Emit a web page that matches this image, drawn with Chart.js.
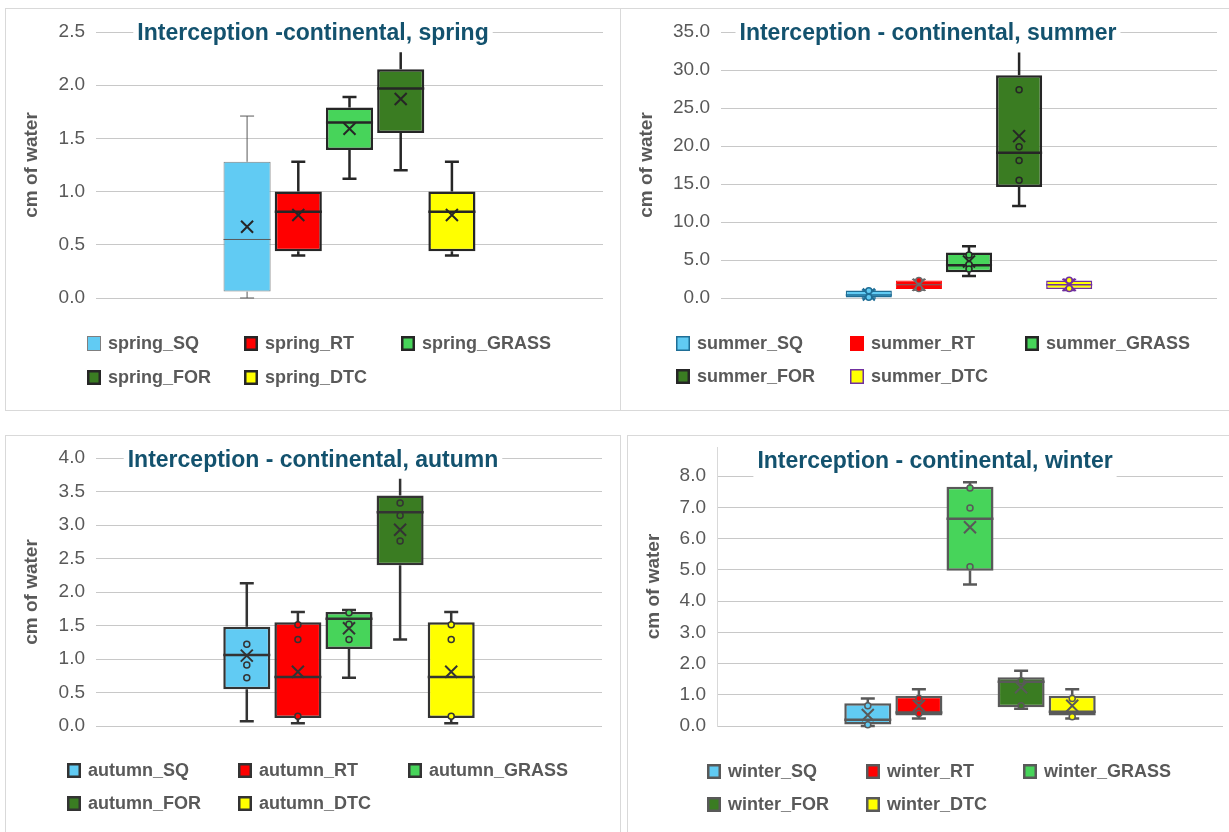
<!DOCTYPE html>
<html>
<head>
<meta charset="utf-8">
<script src="https://cdn.jsdelivr.net/npm/chart.js"></script>
<style>
  body { margin: 0; background: #fff; width: 1229px; height: 832px; overflow: hidden; position: relative; }
  .panel { position: absolute; border: 1px solid #d9d9d9; box-sizing: border-box; }
  canvas { position: absolute; }
</style>
</head>
<body>
<div class="panel" style="left:5px;top:8px;width:616px;height:403px"></div>
<div class="panel" style="left:620px;top:8px;width:615px;height:403px"></div>
<div class="panel" style="left:5px;top:435px;width:616px;height:402px"></div>
<div class="panel" style="left:627px;top:435px;width:608px;height:402px"></div>

<canvas id="spring" width="615" height="402" style="left:5px;top:8px"></canvas>
<canvas id="summer" width="609" height="402" style="left:620px;top:8px"></canvas>
<canvas id="autumn" width="615" height="397" style="left:5px;top:435px"></canvas>
<canvas id="winter" width="602" height="397" style="left:627px;top:435px"></canvas>

<script>
const groups = ['SQ', 'RT', 'GRASS', 'FOR', 'DTC'];
const fillColors = ['#61cbf3', '#ff0000', '#47d45a', '#3a7c22', '#ffff00'];

// spring
const springMin    = [0.00, 0.40, 1.12, 1.20, 0.40];
const springQ1     = [0.06, 0.44, 1.39, 1.55, 0.44];
const springMedian = [0.55, 0.81, 1.65, 1.97, 0.81];
const springQ3     = [1.28, 1.00, 1.79, 2.15, 1.00];
const springMax    = [1.71, 1.28, 1.89, 2.31, 1.28];
const springMean   = [0.67, 0.78, 1.59, 1.87, 0.78];
const springPoints = [[], [], [], [], []];

// summer
const summerMin    = [0.00, 1.00, 2.90, 12.1, 1.00];
const summerQ1     = [0.05, 1.17, 3.40, 14.6, 1.17];
const summerMedian = [0.40, 1.74, 4.30, 19.1, 1.74];
const summerQ3     = [1.00, 2.30, 6.00, 29.3, 2.30];
const summerMax    = [1.05, 2.45, 6.80, 32.3, 2.45];
const summerMean   = [0.45, 1.75, 4.80, 21.3, 1.75];
const summerPoints = [[0.95, 0.10], [2.30, 1.25], [5.65, 4.40, 3.80], [27.4, 19.9, 18.1, 15.5], [2.35, 1.25]];

// autumn
const autumnMin    = [0.07, 0.04, 0.72, 1.29, 0.04];
const autumnQ1     = [0.55, 0.12, 1.15, 2.40, 0.12];
const autumnMedian = [1.06, 0.73, 1.60, 3.19, 0.73];
const autumnQ3     = [1.48, 1.55, 1.70, 3.44, 1.55];
const autumnMax    = [2.13, 1.70, 1.73, 3.69, 1.70];
const autumnMean   = [1.05, 0.81, 1.46, 2.93, 0.81];
const autumnPoints = [[1.22, 0.91, 0.72], [1.51, 1.29, 0.145], [1.69, 1.52, 1.29], [3.33, 3.14, 2.76], [1.51, 1.29, 0.145]];

// winter
const winterMin    = [0.00, 0.24, 4.53, 0.55, 0.24];
const winterQ1     = [0.05, 0.34, 4.97, 0.60, 0.34];
const winterMedian = [0.20, 0.43, 6.63, 1.42, 0.46];
const winterQ3     = [0.73, 0.97, 7.66, 1.56, 0.97];
const winterMax    = [0.88, 1.18, 7.80, 1.77, 1.18];
const winterMean   = [0.35, 0.65, 6.36, 1.24, 0.65];
const winterPoints = [[0.65, 0.04], [0.88, 0.40], [7.62, 6.98, 5.10], [1.45, 0.65], [0.88, 0.30]];

// y axis ticks
const springTicks = { max: 2.5, step: 0.5 };
const summerTicks = { max: 35, step: 5 };
const autumnTicks = { max: 4, step: 0.5 };
const winterTicks = { max: 8.93, step: 1 };

const grey = '#595959';
const font = '"Liberation Sans", Arial, sans-serif';

// whiskers, median, mean cross and inner points
const boxMarks = {
  id: 'boxMarks',
  afterDatasetsDraw(chart, args, opts) {
    const ctx = chart.ctx;
    const y = chart.scales.y;
    const s = opts.stats, look = opts.look;
    const py = v => y.getPixelForValue(v);
    chart.data.datasets.forEach((ds, i) => {
      const bar = chart.getDatasetMeta(i).data[0];
      const x = bar.x, half = bar.width / 2, cap = 7;
      ctx.save();
      ctx.strokeStyle = look.marks[i];
      ctx.lineWidth = look.width[i];
      ctx.beginPath();
      ctx.moveTo(x, py(s.q3[i])); ctx.lineTo(x, py(s.max[i]));
      ctx.moveTo(x, py(s.q1[i])); ctx.lineTo(x, py(s.min[i]));
      if (look.topCap[i]) {
        ctx.moveTo(x - cap, py(s.max[i])); ctx.lineTo(x + cap, py(s.max[i]));
      }
      ctx.moveTo(x - cap, py(s.min[i])); ctx.lineTo(x + cap, py(s.min[i]));
      ctx.moveTo(x - half, py(s.median[i])); ctx.lineTo(x + half, py(s.median[i]));
      ctx.stroke();

      const my = py(s.mean[i]);
      ctx.strokeStyle = look.cross[i];
      ctx.lineWidth = 2;
      ctx.beginPath();
      ctx.moveTo(x - 6, my - 6); ctx.lineTo(x + 6, my + 6);
      ctx.moveTo(x + 6, my - 6); ctx.lineTo(x - 6, my + 6);
      ctx.stroke();

      ctx.strokeStyle = look.marks[i];
      ctx.lineWidth = 1.5;
      ctx.fillStyle = ds.backgroundColor;
      s.points[i].forEach(v => {
        ctx.beginPath();
        ctx.arc(x, py(v), 3, 0, Math.PI * 2);
        ctx.fill();
        ctx.stroke();
      });
      ctx.restore();
    });
  }
};

// title sitting on the top gridline
const panelTitle = {
  id: 'panelTitle',
  afterDraw(chart, args, opts) {
    const ctx = chart.ctx;
    ctx.save();
    ctx.font = 'bold 23px ' + font;
    const w = ctx.measureText(opts.text).width;
    ctx.fillStyle = '#ffffff';
    ctx.fillRect(opts.x - w / 2 - 4, opts.y - 16, w + 8, 32);
    ctx.fillStyle = '#13526e';
    ctx.textAlign = 'center';
    ctx.textBaseline = 'middle';
    ctx.fillText(opts.text, opts.x, opts.y);
    ctx.restore();
  }
};

// legend in Excel-like columns
const gridLegend = {
  id: 'gridLegend',
  afterDraw(chart, args, opts) {
    const ctx = chart.ctx, look = opts.look;
    ctx.save();
    ctx.font = 'bold 18px ' + font;
    ctx.textBaseline = 'middle';
    chart.data.datasets.forEach((ds, i) => {
      const bx = look.legendCols[i % 3];
      const by = look.legendRows[Math.floor(i / 3)];
      ctx.fillStyle = ds.backgroundColor;
      ctx.fillRect(bx, by - 7, 14, 15);
      const lw = Math.min(ds.borderWidth, 2.5);
      ctx.lineWidth = lw;
      ctx.strokeStyle = ds.borderColor;
      ctx.strokeRect(bx + lw / 2, by - 7 + lw / 2, 14 - lw, 15 - lw);
      ctx.fillStyle = grey;
      ctx.fillText(ds.label, bx + 21, by + 1);
    });
    ctx.restore();
  }
};

function buildChart(id, season, title, stats, ticks, look) {
  const datasets = groups.map((g, i) => ({
    label: season + '_' + g,
    data: [[stats.q1[i], stats.q3[i]]],
    backgroundColor: fillColors[i],
    borderColor: look.border[i],
    borderWidth: look.width[i],
    borderSkipped: false,
    barPercentage: 0.92,
    categoryPercentage: 0.505
  }));

  return new Chart(document.getElementById(id), {
    type: 'bar',
    data: { labels: [''], datasets },
    options: {
      responsive: false,
      animation: false,
      layout: { padding: look.pad },
      plugins: {
        legend: { display: false },
        tooltip: { enabled: false },
        boxMarks: { stats, look },
        panelTitle: { text: title, x: 308, y: look.titleY },
        gridLegend: { look }
      },
      scales: {
        x: { display: false },
        y: {
          min: 0,
          max: ticks.max,
          ticks: {
            stepSize: ticks.step,
            includeBounds: false,
            color: grey,
            padding: 11,
            font: { family: font, size: 19 },
            callback: v => v.toFixed(1)
          },
          grid: { color: '#c8c8c8', drawTicks: false },
          border: { display: look.axisLine, color: '#d9d9d9' },
          title: {
            display: true,
            text: 'cm of water',
            color: grey,
            font: { family: font, size: 19, weight: 'bold' },
            padding: { top: 15, bottom: 0 }
          },
          afterFit(scale) {
            scale.width = look.axisWidth;
            scale.paddingTop = 0;
            scale.paddingBottom = 0;
          }
        }
      }
    },
    plugins: [boxMarks, panelTitle, gridLegend]
  });
}

buildChart('spring', 'spring', 'Interception -continental, spring',
  { min: springMin, q1: springQ1, median: springMedian, q3: springQ3, max: springMax, mean: springMean, points: springPoints },
  springTicks,
  {
    border: ['#7f7f7f', '#262626', '#262626', '#262626', '#262626'],
    width: [1, 2.5, 2.5, 2.5, 2.5],
    marks: ['#595959', '#262626', '#262626', '#262626', '#262626'],
    cross: ['#262626', '#262626', '#262626', '#262626', '#262626'],
    topCap: [true, true, true, false, true],
    pad: { left: 0, top: 24, right: 17, bottom: 112 },
    axisWidth: 91, axisLine: false, titleY: 26,
    legendCols: [82, 239, 396], legendRows: [335, 369]
  });

buildChart('summer', 'summer', 'Interception - continental, summer',
  { min: summerMin, q1: summerQ1, median: summerMedian, q3: summerQ3, max: summerMax, mean: summerMean, points: summerPoints },
  summerTicks,
  {
    border: ['#1f6e96', '#ff0000', '#262626', '#262626', '#7030a0'],
    width: [1.5, 1, 2.5, 2.5, 1.5],
    marks: ['#1f6e96', '#6b6b6b', '#262626', '#262626', '#7030a0'],
    cross: ['#1f6e96', '#6b6b6b', '#262626', '#262626', '#7030a0'],
    topCap: [true, true, true, false, true],
    pad: { left: 0, top: 24, right: 12, bottom: 112 },
    axisWidth: 101, axisLine: false, titleY: 26,
    legendCols: [56, 230, 405], legendRows: [335, 368]
  });

buildChart('autumn', 'autumn', 'Interception - continental, autumn',
  { min: autumnMin, q1: autumnQ1, median: autumnMedian, q3: autumnQ3, max: autumnMax, mean: autumnMean, points: autumnPoints },
  autumnTicks,
  {
    border: ['#333333', '#333333', '#333333', '#333333', '#333333'],
    width: [2.5, 2.5, 2.5, 2.5, 2.5],
    marks: ['#333333', '#333333', '#333333', '#333333', '#333333'],
    cross: ['#333333', '#333333', '#333333', '#333333', '#333333'],
    topCap: [true, true, true, false, true],
    pad: { left: 0, top: 23, right: 18, bottom: 106 },
    axisWidth: 91, axisLine: false, titleY: 26,
    legendCols: [62, 233, 403], legendRows: [335, 368]
  });

buildChart('winter', 'winter', 'Interception - continental, winter',
  { min: winterMin, q1: winterQ1, median: winterMedian, q3: winterQ3, max: winterMax, mean: winterMean, points: winterPoints },
  winterTicks,
  {
    border: ['#595959', '#595959', '#595959', '#595959', '#595959'],
    width: [2.5, 2.5, 2.5, 2.5, 2.5],
    marks: ['#595959', '#595959', '#595959', '#595959', '#595959'],
    cross: ['#595959', '#595959', '#595959', '#595959', '#595959'],
    topCap: [true, true, true, true, true],
    pad: { left: 0, top: 12, right: 6, bottom: 106 },
    axisWidth: 90, axisLine: true, titleY: 27,
    legendCols: [80, 239, 396], legendRows: [336, 369]
  });
</script>
</body>
</html>
